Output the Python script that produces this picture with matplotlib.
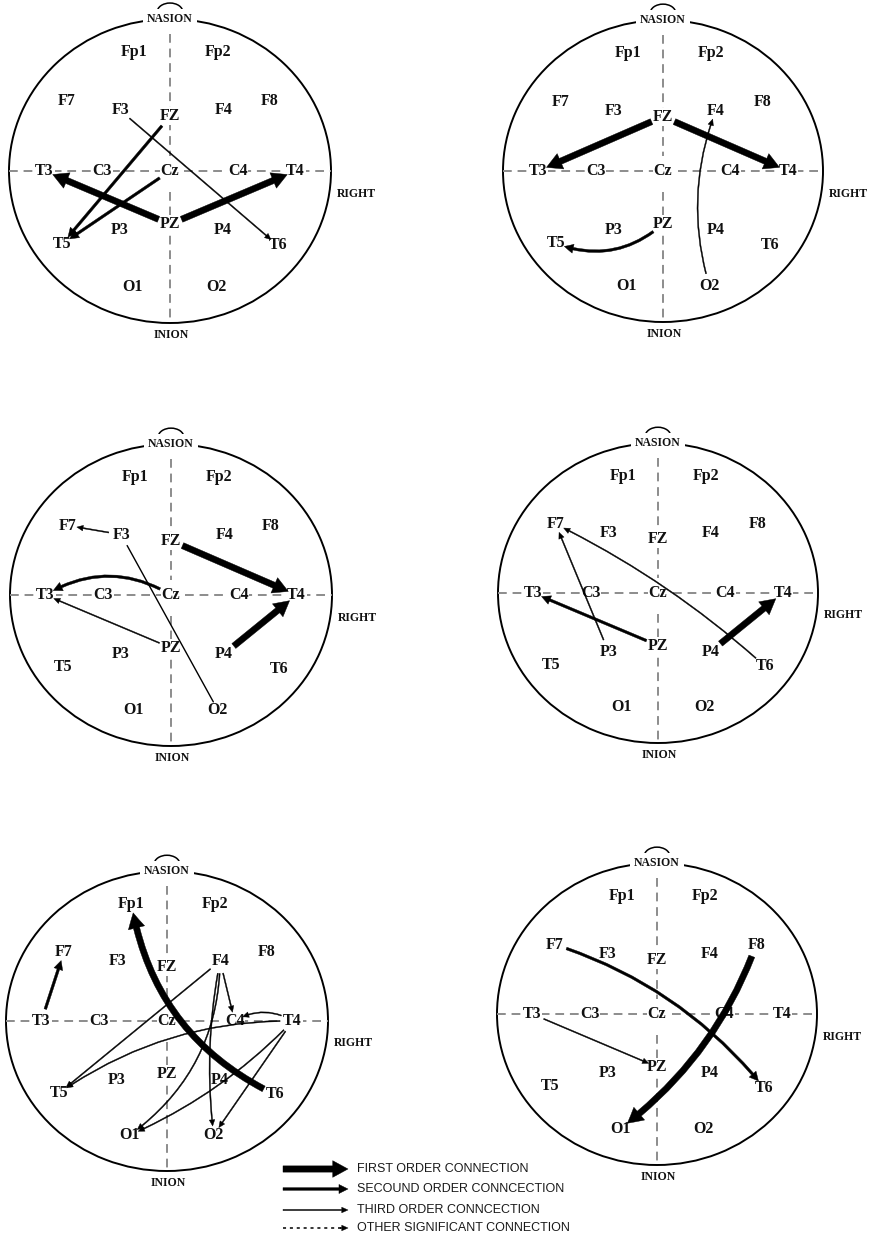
import matplotlib.pyplot as plt
from matplotlib.patches import Arc, FancyArrowPatch

plt.rcParams['font.family'] = ['Liberation Serif', 'DejaVu Serif']

W, H = 873, 1238

# electrode labels on a unit head (x: left -> right, y: nasion -> inion)
electrodes = ["Fp1", "Fp2", "F7", "F3", "FZ", "F4", "F8",
              "T3", "C3", "Cz", "C4", "T4",
              "P3", "PZ", "P4", "T5", "T6", "O1", "O2"]
elec_x = [-0.22, 0.30, -0.64, -0.31, 0.0, 0.33, 0.62,
          -0.78, -0.42, 0.0, 0.42, 0.78,
          -0.31, 0.0, 0.33, -0.67, 0.67, -0.23, 0.29]
elec_y = [-0.78, -0.78, -0.46, -0.40, -0.36, -0.40, -0.46,
          0.0, 0.0, 0.0, 0.0, 0.0,
          0.39, 0.35, 0.39, 0.48, 0.49, 0.76, 0.76]

# connections of each map: (from, to, order, curvature, arrow head)
conn_1 = [("PZ", "T3", 1, 0.0, True), ("PZ", "T4", 1, 0.0, True),
          ("FZ", "T5", 2, 0.0, True), ("Cz", "T5", 2, 0.0, True),
          ("F3", "T6", 3, 0.0, True)]
conn_2 = [("FZ", "T3", 1, 0.0, True), ("FZ", "T4", 1, 0.0, True),
          ("PZ", "T5", 2, -0.3, True), ("O2", "F4", 3, -0.17, True)]
conn_3 = [("FZ", "T4", 1, 0.0, True), ("P4", "T4", 1, 0.0, True),
          ("Cz", "T3", 2, 0.3, True), ("F3", "F7", 3, 0.0, True),
          ("PZ", "T3", 3, 0.0, True), ("F3", "O2", 3, 0.0, False)]
conn_4 = [("P4", "T4", 1, 0.0, True), ("PZ", "T3", 2, 0.0, True),
          ("P3", "F7", 3, 0.0, True), ("T6", "F7", 3, 0.07, True)]
conn_5 = [("T6", "Fp1", 1, -0.26, True), ("T3", "F7", 2, 0.0, True),
          ("F4", "T5", 3, 0.0, True), ("F4", "C4", 3, 0.0, True),
          ("F4", "O1", 3, -0.25, True), ("F4", "O2", 3, 0.08, True),
          ("T4", "C4", 3, 0.3, True), ("T4", "T5", 3, 0.16, True),
          ("T4", "O1", 3, -0.1, True), ("T4", "O2", 3, 0.0, True)]
conn_6 = [("F8", "O1", 1, -0.15, True), ("F7", "T6", 2, -0.15, True),
          ("T3", "PZ", 3, 0.0, True)]
maps = [conn_1, conn_2, conn_3, conn_4, conn_5, conn_6]

legend_labels = ["FIRST ORDER CONNECTION", "SECOUND ORDER CONNCECTION",
                 "THIRD ORDER CONNCECTION", "OTHER SIGNIFICANT CONNECTION"]

# head placement in pixels: centre x, centre y, radius x, radius y
heads = [(170, 171, 161, 152), (663, 171, 160, 151), (171, 595, 161, 151),
         (658, 593, 160, 150), (167, 1021, 161, 150), (657, 1014, 160, 151)]

styles = {1: 'simple,head_length=11,head_width=12,tail_width=4.5',
          2: 'simple,head_length=6.5,head_width=6.5,tail_width=1.9',
          3: 'simple,head_length=4.5,head_width=4,tail_width=0.8'}

pos = dict(zip(electrodes, zip(elec_x, elec_y)))
dash = dict(color='#8c8c8c', lw=1.4, ls=(0, (4.5, 3)), zorder=1)
lab = dict(ha='center', va='center', fontweight='bold', color='#111111')

fig = plt.figure(figsize=(W / 100, H / 100), dpi=100)

for (cx, cy, rx, ry), conns in zip(heads, maps):
    x0, x1, y0, y1 = -1.1, 1.45, -1.15, 1.25
    left, top = cx + x0 * rx, cy + y0 * ry
    w, h = (x1 - x0) * rx, (y1 - y0) * ry
    ax = fig.add_axes([left / W, 1 - (top + h) / H, w / W, h / H])
    ax.set_xlim(x0, x1)
    ax.set_ylim(y1, y0)
    ax.axis('off')

    ax.add_patch(Arc((0, 0), 2, 2, lw=1.4, color='black', zorder=1))
    ax.add_patch(Arc((0, -1.045), 0.16, 0.12, theta1=180, theta2=360,
                     lw=1.1, color='black', zorder=1))
    ax.plot([-1, 1], [0, 0], **dash)
    ax.plot([0, 0], [-0.9, -0.1], **dash)
    ax.plot([0, 0], [0.14, 1.0], **dash)

    for name, (x, y) in pos.items():
        ax.text(x, y, name, fontsize=11.5, zorder=3,
                bbox=dict(boxstyle='square,pad=0.06', fc='white', ec='none'), **lab)
    ax.text(0, -1.0, 'NASION', fontsize=8.5, zorder=3,
            bbox=dict(boxstyle='square,pad=0.35', fc='white', ec='none'), **lab)
    ax.text(0.01, 1.08, 'INION', fontsize=8.5, zorder=3, **lab)
    ax.text(1.16, 0.15, 'RIGHT', fontsize=8.5, zorder=3, **lab)

    for src, dst, order, rad, head in conns:
        if head:
            arr = FancyArrowPatch(pos[src], pos[dst], arrowstyle=styles[order],
                                  connectionstyle=f'arc3,rad={rad}',
                                  shrinkA=9, shrinkB=6.5, fc='black', ec='black',
                                  lw=0.3, zorder=4)
        else:
            arr = FancyArrowPatch(pos[src], pos[dst], arrowstyle='-',
                                  connectionstyle=f'arc3,rad={rad}',
                                  shrinkA=9, shrinkB=6.5, color='black',
                                  lw=1.0, zorder=4)
        ax.add_patch(arr)

# legend, in pixel coordinates
lax = fig.add_axes([0, 0, 1, 1])
lax.set_xlim(0, W)
lax.set_ylim(H, 0)
lax.axis('off')
rows = [1169, 1189, 1210, 1228]
for i, (y, text) in enumerate(zip(rows, legend_labels)):
    if i < 3:
        lax.add_patch(FancyArrowPatch((283, y), (348, y), arrowstyle=styles[i + 1],
                                      shrinkA=0, shrinkB=0, fc='black', ec='black', lw=0.3))
    else:
        lax.plot([283, 342], [y, y], color='black', lw=1.1, ls=(0, (2, 2.5)))
        lax.add_patch(FancyArrowPatch((340, y), (348, y), arrowstyle=styles[3],
                                      shrinkA=0, shrinkB=0, fc='black', ec='black', lw=0.3))
    lax.text(357, y, text, ha='left', va='center', fontsize=9,
             family=['Liberation Sans', 'DejaVu Sans'], color='#1a1a1a')

fig.savefig('out.png', dpi=100)
